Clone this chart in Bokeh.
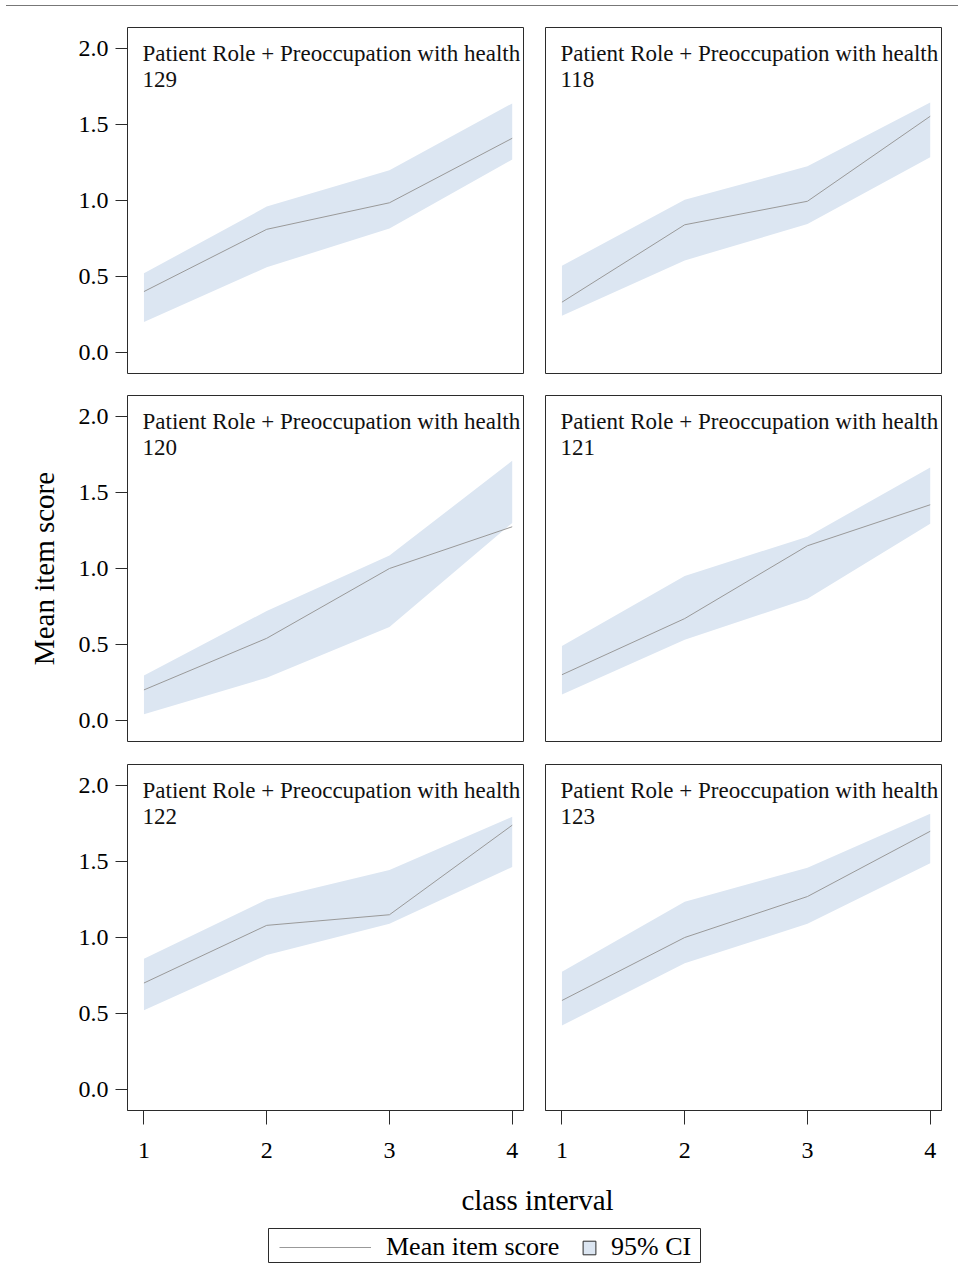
from bokeh.plotting import figure
from bokeh.models import (Range1d, FixedTicker, NumeralTickFormatter, Label, Legend,
                          LegendItem, BoxAnnotation, Div)
from bokeh.layouts import column, row
from bokeh.embed import file_html
from bokeh.resources import INLINE

# ---------------- data ----------------
class_interval = [1, 2, 3, 4]
panel_title = "Patient Role + Preoccupation with health"
panel_numbers = ["129", "118", "120", "121", "122", "123"]

mean_129 = [0.40, 0.81, 0.985, 1.41]
lower_129 = [0.20, 0.56, 0.815, 1.27]
upper_129 = [0.52, 0.96, 1.20, 1.64]

mean_118 = [0.33, 0.84, 0.995, 1.555]
lower_118 = [0.24, 0.605, 0.845, 1.285]
upper_118 = [0.57, 1.005, 1.225, 1.645]

mean_120 = [0.20, 0.54, 1.00, 1.275]
lower_120 = [0.04, 0.28, 0.615, 1.30]
upper_120 = [0.295, 0.72, 1.085, 1.71]

mean_121 = [0.30, 0.67, 1.15, 1.42]
lower_121 = [0.17, 0.53, 0.80, 1.295]
upper_121 = [0.49, 0.95, 1.21, 1.665]

mean_122 = [0.70, 1.08, 1.15, 1.74]
lower_122 = [0.52, 0.885, 1.09, 1.465]
upper_122 = [0.86, 1.25, 1.445, 1.795]

mean_123 = [0.585, 1.00, 1.27, 1.70]
lower_123 = [0.42, 0.83, 1.09, 1.49]
upper_123 = [0.775, 1.235, 1.46, 1.815]

y_ticks = [0.0, 0.5, 1.0, 1.5, 2.0]
x_axis_title = "class interval"
y_axis_title = "Mean item score"
legend_mean = "Mean item score"
legend_ci = "95% CI"

# ---------------- style ----------------
FONT = "Liberation Serif"
BAND = "#dce6f2"
LINE = "#999999"
FRAME = "#2b2b2b"
X_RANGE = (0.866, 4.092)
Y_RANGE = (-0.14, 2.14)


def make_panel(number, mean, lower, upper, is_left, is_bottom, border_top, border_bottom, ylabel=None):
    w = 534 if is_left else 424
    h = border_top + 346 + border_bottom
    p = figure(width=w, height=h, output_backend="svg", toolbar_location=None,
               x_range=Range1d(*X_RANGE), y_range=Range1d(*Y_RANGE),
               x_axis_location="below" if is_bottom else None,
               y_axis_location="left" if is_left else None,
               min_border_left=127 if is_left else 11,
               min_border_right=11 if is_left else 17,
               min_border_top=border_top, min_border_bottom=border_bottom)
    p.outline_line_color = FRAME
    p.outline_line_width = 1
    p.xgrid.visible = False
    p.ygrid.visible = False

    p.varea(x=class_interval, y1=lower, y2=upper, fill_color=BAND)
    p.line(x=class_interval, y=mean, line_color=LINE, line_width=1)

    if is_left:
        ax = p.yaxis[0]
        ax.ticker = FixedTicker(ticks=y_ticks)
        ax.formatter = NumeralTickFormatter(format="0.0")
        ax.axis_line_color = None
        ax.major_tick_line_color = FRAME
        ax.major_tick_out = 12
        ax.major_tick_in = 0
        ax.minor_tick_line_color = None
        ax.major_label_text_font = FONT
        ax.major_label_text_font_size = "24px"
        ax.major_label_text_color = "black"
        ax.major_label_standoff = 7
        if ylabel:
            ax.axis_label = ylabel
            ax.axis_label_text_font = FONT
            ax.axis_label_text_font_size = "29px"
            ax.axis_label_text_font_style = "normal"
            ax.axis_label_text_color = "black"
            ax.axis_label_standoff = 16
    if is_bottom:
        ax = p.xaxis[0]
        ax.ticker = FixedTicker(ticks=class_interval)
        ax.axis_line_color = FRAME
        ax.major_tick_line_color = FRAME
        ax.major_tick_out = 14
        ax.major_tick_in = 0
        ax.minor_tick_line_color = None
        ax.major_label_text_font = FONT
        ax.major_label_text_font_size = "24px"
        ax.major_label_text_color = "black"
        ax.major_label_standoff = 18

    p.add_layout(Label(x=X_RANGE[0], y=Y_RANGE[1], x_offset=15, y_offset=-26,
                       text=panel_title, text_font=FONT, text_font_size="23px",
                       text_color="#111111", text_baseline="alphabetic"))
    p.add_layout(Label(x=X_RANGE[0], y=Y_RANGE[1], x_offset=15, y_offset=-52,
                       text=number, text_font=FONT, text_font_size="23px",
                       text_color="#111111", text_baseline="alphabetic"))
    return p


# thin grey rule across the top of the page
top = Div(text="", width=952, height=1, margin=(5, 0, 0, 6),
          styles={"background-color": "#777777"})

p1 = make_panel(panel_numbers[0], mean_129, lower_129, upper_129, True, False, 21, 11)
p2 = make_panel(panel_numbers[1], mean_118, lower_118, upper_118, False, False, 21, 11)
p3 = make_panel(panel_numbers[2], mean_120, lower_120, upper_120, True, False, 11, 11, ylabel=y_axis_title)
p4 = make_panel(panel_numbers[3], mean_121, lower_121, upper_121, False, False, 11, 11)
p5 = make_panel(panel_numbers[4], mean_122, lower_122, upper_122, True, True, 12, 60)
p6 = make_panel(panel_numbers[5], mean_123, lower_123, upper_123, False, True, 12, 60)

# bottom strip: x-axis title and legend (coordinates = pixels inside the strip)
bh = 107
b = figure(width=958, height=bh, output_backend="svg", toolbar_location=None,
           x_range=Range1d(0, 958), y_range=Range1d(0, bh),
           x_axis_location=None, y_axis_location=None, min_border=0)
b.outline_line_color = None
b.xgrid.visible = False
b.ygrid.visible = False
b.add_layout(Label(x=537, y=78, text=x_axis_title, text_font=FONT, text_font_size="29px",
                   text_color="black", text_align="center", text_baseline="alphabetic"))

# legend proxies: real series drawn on an off-screen range so only their legend symbols show
b.extra_x_ranges = {"proxy": Range1d(100, 200)}
r_line = b.line(x=class_interval, y=mean_129, line_color=LINE, line_width=1, x_range_name="proxy")
r_ci = b.quad(left=class_interval[:-1], right=class_interval[1:], bottom=lower_129[:-1],
              top=upper_129[:-1], fill_color=BAND, line_color=FRAME, line_width=1,
              x_range_name="proxy")

leg1 = Legend(items=[LegendItem(label=legend_mean, renderers=[r_line])],
              location=(279, 15), orientation="horizontal",
              glyph_width=92, glyph_height=30, label_height=30, label_standoff=15,
              padding=2, spacing=0, margin=0, border_line_color=None,
              background_fill_alpha=0, label_text_font=FONT, label_text_font_size="26px",
              label_text_color="black")
leg2 = Legend(items=[LegendItem(label=legend_ci, renderers=[r_ci])],
              location=(581, 15), orientation="horizontal",
              glyph_width=16, glyph_height=17, label_height=30, label_standoff=14,
              padding=2, spacing=0, margin=0, border_line_color=None,
              background_fill_alpha=0, label_text_font=FONT, label_text_font_size="26px",
              label_text_color="black")
b.add_layout(leg1, "center")
b.add_layout(leg2, "center")
b.add_layout(BoxAnnotation(left=268, right=700, bottom=15, top=49, fill_alpha=0,
                           line_color=FRAME, line_alpha=1, line_width=1))

layout = column(top, row(p1, p2), row(p3, p4), row(p5, p6), b, spacing=0)

open("out.html", "w").write(file_html(layout, INLINE))
